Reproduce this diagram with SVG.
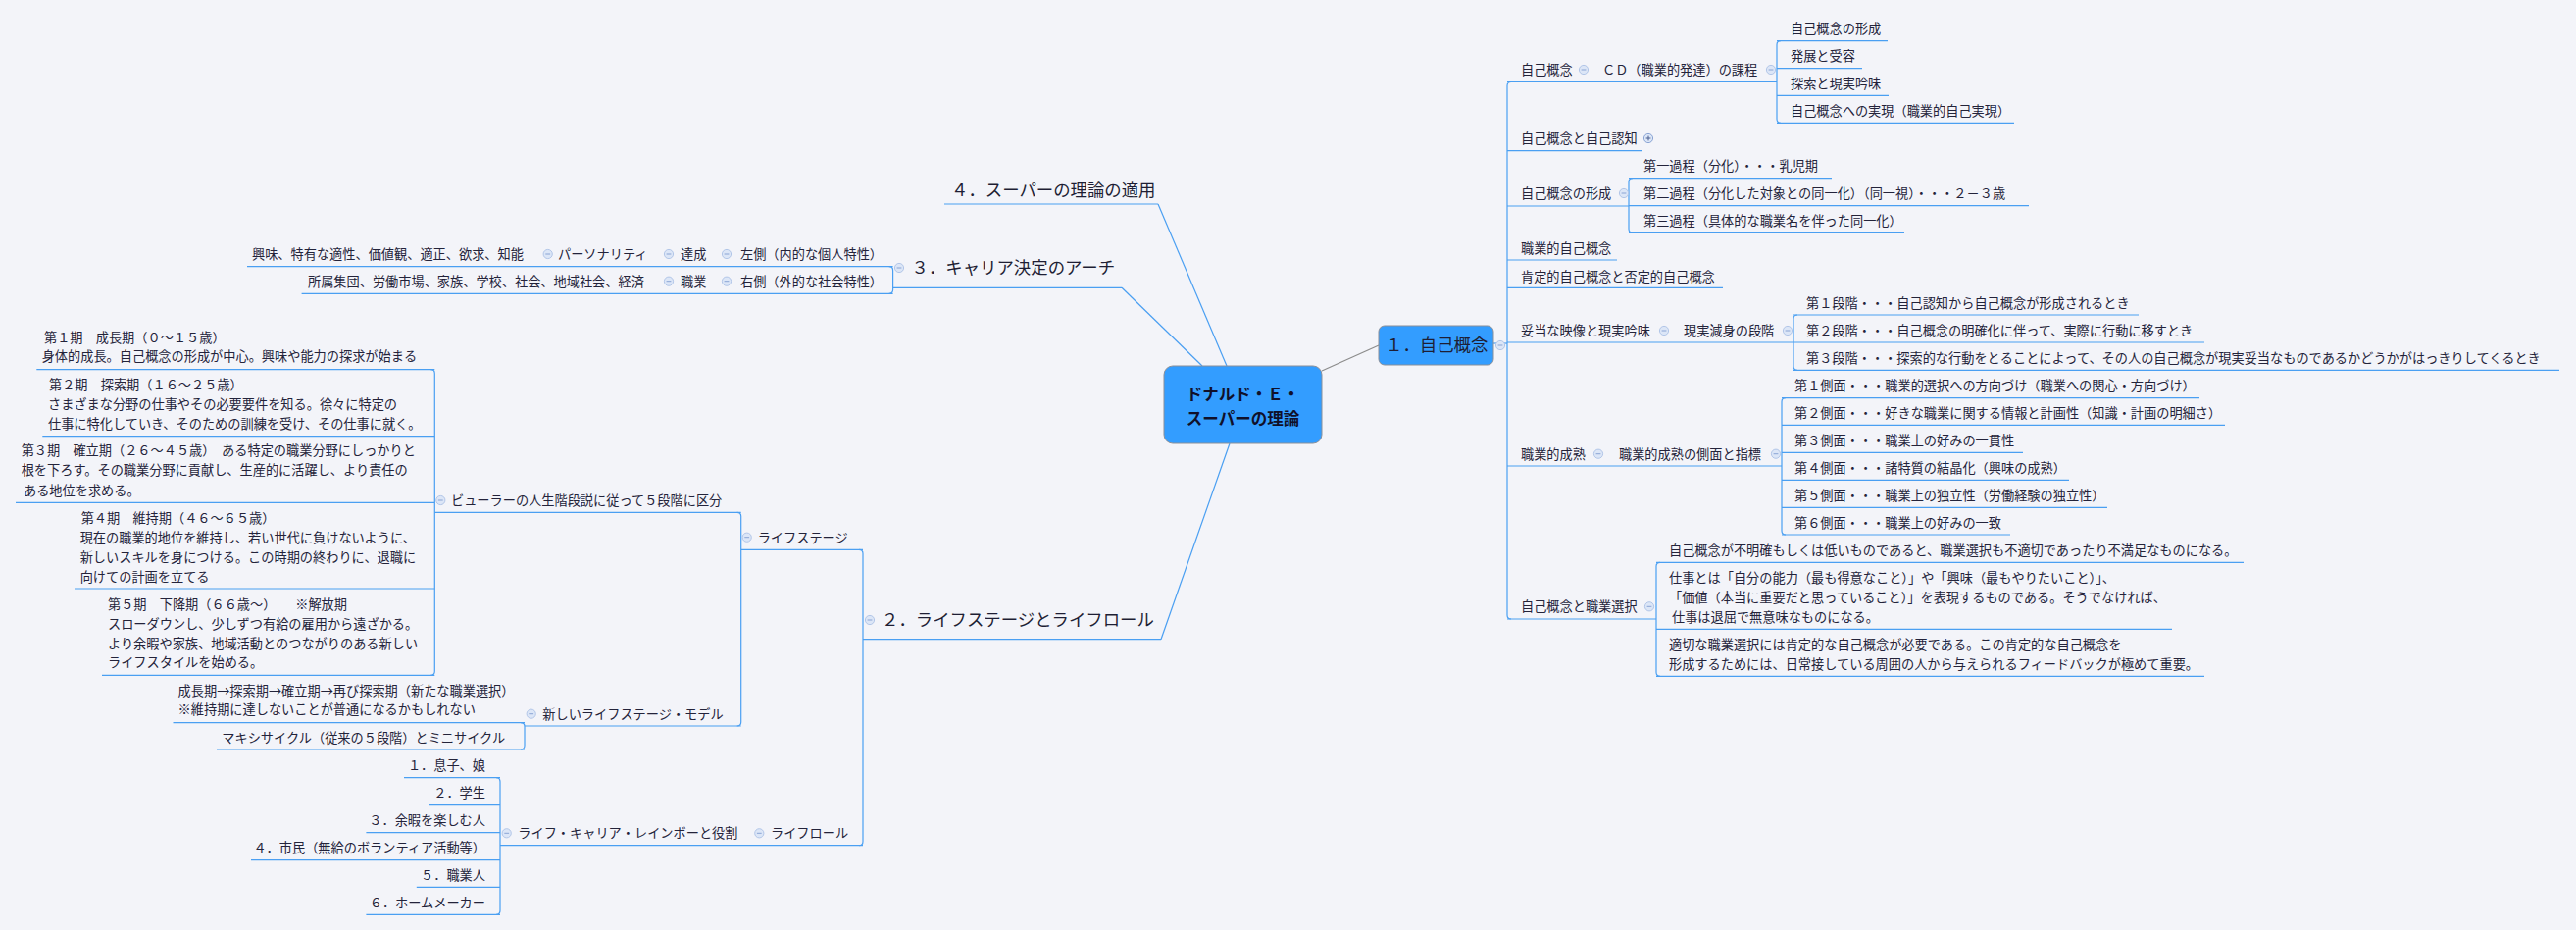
<svg xmlns="http://www.w3.org/2000/svg" width="2627" height="948" viewBox="0 0 2627 948">
<style>
.t{font-family:"Noto Sans CJK JP","Noto Sans",sans-serif;font-size:13.2px;fill:#23233a}
.tl{font-family:"Noto Sans CJK JP","Noto Sans",sans-serif;font-size:17.4px;fill:#1e1e34}
.tc{font-family:"Noto Sans CJK JP","Noto Sans",sans-serif;font-size:16.5px;font-weight:bold;fill:#10102a}
.e{text-anchor:end}
.c{fill:none;stroke:#4a9ff2;stroke-width:1.2}
.g{fill:none;stroke:#8c8c8c;stroke-width:1.2}
</style>
<defs>
<g id="mn"><circle r="4.6" fill="#dce6f7" stroke="#b2c6e8" stroke-width="1"/><line x1="-2.4" y1="0" x2="2.4" y2="0" stroke="#8aa4d4" stroke-width="1"/></g>
<g id="pl"><circle r="4.6" fill="#dce6f7" stroke="#8aa4d4" stroke-width="1"/><line x1="-2.4" y1="0" x2="2.4" y2="0" stroke="#4a5f90" stroke-width="1"/><line x1="0" y1="-2.4" x2="0" y2="2.4" stroke="#4a5f90" stroke-width="1"/></g>
</defs>
<rect width="2627" height="948" fill="#f3f4f9"/>

<g id="connectors">
  <line class="g" x1="1348" y1="378" x2="1406" y2="352"/>
  <line class="c" x1="1181" y1="208" x2="1251" y2="373"/>
  <line class="c" x1="1144" y1="293.3" x2="1226" y2="373"/>
  <line class="c" x1="1184" y1="651.7" x2="1254" y2="452"/>
  <line class="c" x1="1523" y1="350" x2="1537" y2="350"/>
  <path class="c" d="M1541,83.5 Q1537,83.5 1537,87.5 L1537,627 Q1537,631 1541,631"/>
  <path class="c" d="M1537,83.5 H1812 M1537,153.7 H1675 M1537,210 H1661 M1537,265 H1649 M1537,293.3 H1757 M1537,349 H1829 M1537,475 H1817 M1537,631 H1689"/>
  <path class="c" d="M1816,41.7 Q1812,41.7 1812,45.7 L1812,121.3 Q1812,125.3 1816,125.3"/>
  <path class="c" d="M1812,41.7 H1925 M1812,69.7 H1899 M1812,97.3 H1926 M1812,125.3 H2054"/>
  <path class="c" d="M1665,181.7 Q1661,181.7 1661,185.7 L1661,233.3 Q1661,237.3 1665,237.3"/>
  <path class="c" d="M1661,181.7 H1868 M1661,209.7 H2069 M1661,237.3 H1942"/>
  <path class="c" d="M1833,321 Q1829,321 1829,325 L1829,373.3 Q1829,377.3 1833,377.3"/>
  <path class="c" d="M1829,321 H2181 M1829,349 H2248 M1829,377.3 H2610"/>
  <path class="c" d="M1821,405.7 Q1817,405.7 1817,409.7 L1817,541 Q1817,545 1821,545"/>
  <path class="c" d="M1817,405.7 H2243 M1817,433.3 H2269 M1817,461.3 H2063 M1817,489.3 H2110 M1817,517.3 H2149 M1817,545 H2050"/>
  <path class="c" d="M1693,573.3 Q1689,573.3 1689,577.3 L1689,685.3 Q1689,689.3 1693,689.3"/>
  <path class="c" d="M1689,573.3 H2288 M1689,641.3 H2215 M1689,689.3 H2248"/>
  <line class="c" x1="963" y1="208" x2="1181" y2="208"/>
  <line class="c" x1="910.6" y1="293.3" x2="1144" y2="293.3"/>
  <path class="c" d="M906.6,271.7 Q910.6,271.7 910.6,275.7 L910.6,295.3 Q910.6,299.3 906.6,299.3"/>
  <path class="c" d="M252,271.7 H910.6 M307.6,299.3 H910.6"/>
  <line class="c" x1="880" y1="651.7" x2="1184" y2="651.7"/>
  <path class="c" d="M876,560.3 Q880,560.3 880,564.3 L880,857.7 Q880,861.7 876,861.7"/>
  <path class="c" d="M755.7,560.3 H880 M510,861.7 H880"/>
  <path class="c" d="M751.7,522.3 Q755.7,522.3 755.7,526.3 L755.7,736 Q755.7,740 751.7,740"/>
  <path class="c" d="M443.3,522.3 H755.7 M535,740 H755.7"/>
  <path class="c" d="M439.3,376.7 Q443.3,376.7 443.3,380.7 L443.3,684.3 Q443.3,688.3 439.3,688.3"/>
  <path class="c" d="M37.3,376.7 H443.3 M43.3,444.7 H443.3 M16,512.3 H443.3 M76,600 H443.3 M104,688.3 H443.3"/>
  <path class="c" d="M531,736.7 Q535,736.7 535,740.7 L535,760 Q535,764 531,764"/>
  <path class="c" d="M176.5,736.7 H535 M221,764 H535"/>
  <path class="c" d="M506,792.7 Q510,792.7 510,796.7 L510,928.3 Q510,932.3 506,932.3"/>
  <path class="c" d="M412,792.7 H510 M438,820.7 H510 M373.4,848.7 H510 M256,876.7 H510 M424.8,904.3 H510 M373.4,932.3 H510"/>
</g>

<g id="central">
  <rect x="1187" y="373" width="161" height="79" rx="9" fill="#339dff" stroke="#8a8f99" stroke-width="1"/>
  <text class="tc" x="1267.5" y="408" text-anchor="middle">ドナルド・Ｅ・</text>
  <text class="tc" x="1267.5" y="433" text-anchor="middle">スーパーの理論</text>
</g>

<g id="topic1">
  <rect x="1406" y="332" width="117" height="40" rx="6" fill="#339dff" stroke="#8a8f99" stroke-width="1"/>
  <text class="tl" x="1413" y="358">１．自己概念</text>
  <use href="#mn" x="1530" y="352"/>
</g>
<g id="t1-jikogainen">
  <text class="t" x="1551" y="76">自己概念</text><use href="#mn" x="1615" y="71"/>
</g>
<g id="t1-cd">
  <text class="t" x="1634" y="76">ＣＤ（職業的発達）の課程</text><use href="#mn" x="1806" y="71"/>
</g>
<g id="t1-cd-children">
  <text class="t" x="1826" y="34">自己概念の形成</text>
  <text class="t" x="1826" y="62">発展と受容</text>
  <text class="t" x="1826" y="90">探索と現実吟味</text>
  <text class="t" x="1826" y="118">自己概念への実現（職業的自己実現）</text>
</g>
<g id="t1-ninchi">
  <text class="t" x="1551" y="146">自己概念と自己認知</text><use href="#pl" x="1681" y="141"/>
</g>
<g id="t1-keisei">
  <text class="t" x="1551" y="202">自己概念の形成</text><use href="#mn" x="1656" y="197"/>
  <text class="t" x="1676" y="174">第一過程（分化）・・・乳児期</text>
  <text class="t" x="1676" y="202">第二過程（分化した対象との同一化）（同一視）・・・２－３歳</text>
  <text class="t" x="1676" y="230">第三過程（具体的な職業名を伴った同一化）</text>
</g>
<g id="t1-shokugyo">
  <text class="t" x="1551" y="258">職業的自己概念</text>
</g>
<g id="t1-kotei">
  <text class="t" x="1551" y="286.5">肯定的自己概念と否定的自己概念</text>
</g>
<g id="t1-dato">
  <text class="t" x="1551" y="342">妥当な映像と現実吟味</text><use href="#mn" x="1697" y="337"/>
  <text class="t" x="1717" y="342">現実減身の段階</text><use href="#mn" x="1823" y="337"/>
  <text class="t" x="1842" y="314">第１段階・・・自己認知から自己概念が形成されるとき</text>
  <text class="t" x="1842" y="342">第２段階・・・自己概念の明確化に伴って、実際に行動に移すとき</text>
  <text class="t" x="1842" y="370">第３段階・・・探索的な行動をとることによって、その人の自己概念が現実妥当なものであるかどうかがはっきりしてくるとき</text>
</g>
<g id="t1-seijuku">
  <text class="t" x="1551" y="467.5">職業的成熟</text><use href="#mn" x="1630" y="462.7"/>
  <text class="t" x="1651" y="467.5">職業的成熟の側面と指標</text><use href="#mn" x="1811" y="462.7"/>
  <text class="t" x="1830" y="397.5">第１側面・・・職業的選択への方向づけ（職業への関心・方向づけ）</text>
  <text class="t" x="1830" y="425.5">第２側面・・・好きな職業に関する情報と計画性（知識・計画の明細さ）</text>
  <text class="t" x="1830" y="453.5">第３側面・・・職業上の好みの一貫性</text>
  <text class="t" x="1830" y="482">第４側面・・・諸特質の結晶化（興味の成熟）</text>
  <text class="t" x="1830" y="510">第５側面・・・職業上の独立性（労働経験の独立性）</text>
  <text class="t" x="1830" y="537.5">第６側面・・・職業上の好みの一致</text>
</g>
<g id="t1-sentaku">
  <text class="t" x="1551" y="623">自己概念と職業選択</text><use href="#mn" x="1682" y="618.3"/>
  <text class="t" x="1702" y="566">自己概念が不明確もしくは低いものであると、職業選択も不適切であったり不満足なものになる。</text>
  <text class="t" x="1702" y="594">仕事とは「自分の能力（最も得意なこと）」や「興味（最もやりたいこと）」、</text>
  <text class="t" x="1702" y="614">「価値（本当に重要だと思っていること）」を表現するものである。そうでなければ、</text>
  <text class="t" x="1705" y="633.5">仕事は退屈で無意味なものになる。</text>
  <text class="t" x="1702" y="661.5">適切な職業選択には肯定的な自己概念が必要である。この肯定的な自己概念を</text>
  <text class="t" x="1702" y="681.5">形成するためには、日常接している周囲の人から与えられるフィードバックが極めて重要。</text>
</g>

<g id="topic4">
  <text class="tl" x="970" y="200">４．スーパーの理論の適用</text>
</g>

<g id="topic3">
  <use href="#mn" x="917" y="273"/>
  <text class="tl" x="929.5" y="279">３．キャリア決定のアーチ</text>
</g>
<g id="t3-left">
  <text class="t" x="755" y="264">左側（内的な個人特性）</text><use href="#mn" x="741" y="259"/>
  <text class="t" x="694" y="264">達成</text><use href="#mn" x="682" y="259"/>
  <text class="t" x="569" y="264">パーソナリティ</text><use href="#mn" x="558.7" y="259"/>
  <text class="t" x="257" y="264">興味、特有な適性、価値観、適正、欲求、知能</text>
</g>
<g id="t3-right">
  <text class="t" x="755" y="291.5">右側（外的な社会特性）</text><use href="#mn" x="741" y="286.7"/>
  <text class="t" x="694" y="291.5">職業</text><use href="#mn" x="682" y="286.7"/>
  <text class="t" x="314" y="291.5">所属集団、労働市場、家族、学校、社会、地域社会、経済</text>
</g>

<g id="topic2">
  <use href="#mn" x="887" y="632"/>
  <text class="tl" x="899" y="638">２．ライフステージとライフロール</text>
</g>
<g id="t2-lifestage">
  <use href="#mn" x="761.7" y="547.7"/>
  <text class="t" x="772.7" y="552.5">ライフステージ</text>
</g>
<g id="t2-buhler">
  <use href="#mn" x="449.3" y="510"/>
  <text class="t" x="460" y="515">ビューラーの人生階段説に従って５段階に区分</text>
</g>
<g id="t2-periods">
  <text class="t" x="45" y="349">第１期　成長期（０～１５歳）</text>
  <text class="t" x="42.7" y="368.3">身体的成長。自己概念の形成が中心。興味や能力の探求が始まる</text>
  <text class="t" x="50" y="396.7">第２期　探索期（１６～２５歳）</text>
  <text class="t" x="49" y="416.7">さまざまな分野の仕事やその必要要件を知る。徐々に特定の</text>
  <text class="t" x="49" y="436.7">仕事に特化していき、そのための訓練を受け、その仕事に就く。</text>
  <text class="t" x="21.7" y="464.3">第３期　確立期（２６～４５歳）　ある特定の職業分野にしっかりと</text>
  <text class="t" x="21.7" y="484.3">根を下ろす。その職業分野に貢献し、生産的に活躍し、より責任の</text>
  <text class="t" x="24" y="505">ある地位を求める。</text>
  <text class="t" x="82.7" y="533.3">第４期　維持期（４６～６５歳）</text>
  <text class="t" x="81.7" y="553.3">現在の職業的地位を維持し、若い世代に負けないように、</text>
  <text class="t" x="81.7" y="573.3">新しいスキルを身につける。この時期の終わりに、退職に</text>
  <text class="t" x="81.7" y="592.7">向けての計画を立てる</text>
  <text class="t" x="110" y="621">第５期　下降期（６６歳～）　　※解放期</text>
  <text class="t" x="110" y="641">スローダウンし、少しずつ有給の雇用から遠ざかる。</text>
  <text class="t" x="110" y="661">より余暇や家族、地域活動とのつながりのある新しい</text>
  <text class="t" x="110" y="680">ライフスタイルを始める。</text>
</g>
<g id="t2-newmodel">
  <use href="#mn" x="541.7" y="727.7"/>
  <text class="t" x="553.3" y="732.7">新しいライフステージ・モデル</text>
  <text class="t" x="181.6" y="709">成長期→探索期→確立期→再び探索期（新たな職業選択）</text>
  <text class="t" x="181.6" y="728.3">※維持期に達しないことが普通になるかもしれない</text>
  <text class="t" x="226.3" y="756.7">マキシサイクル（従来の５段階）とミニサイクル</text>
</g>
<g id="t2-liferole">
  <use href="#mn" x="774.3" y="849.3"/>
  <text class="t" x="786" y="854.3">ライフロール</text>
  <use href="#mn" x="516.7" y="849.3"/>
  <text class="t" x="528.3" y="854.3">ライフ・キャリア・レインボーと役割</text>
  <text class="t e" x="495" y="785">１．息子、娘</text>
  <text class="t e" x="495" y="813.3">２．学生</text>
  <text class="t e" x="495" y="841">３．余暇を楽しむ人</text>
  <text class="t e" x="495" y="869">４．市民（無給のボランティア活動等）</text>
  <text class="t e" x="495" y="897.3">５．職業人</text>
  <text class="t e" x="495" y="925">６．ホームメーカー</text>
</g>
</svg>
